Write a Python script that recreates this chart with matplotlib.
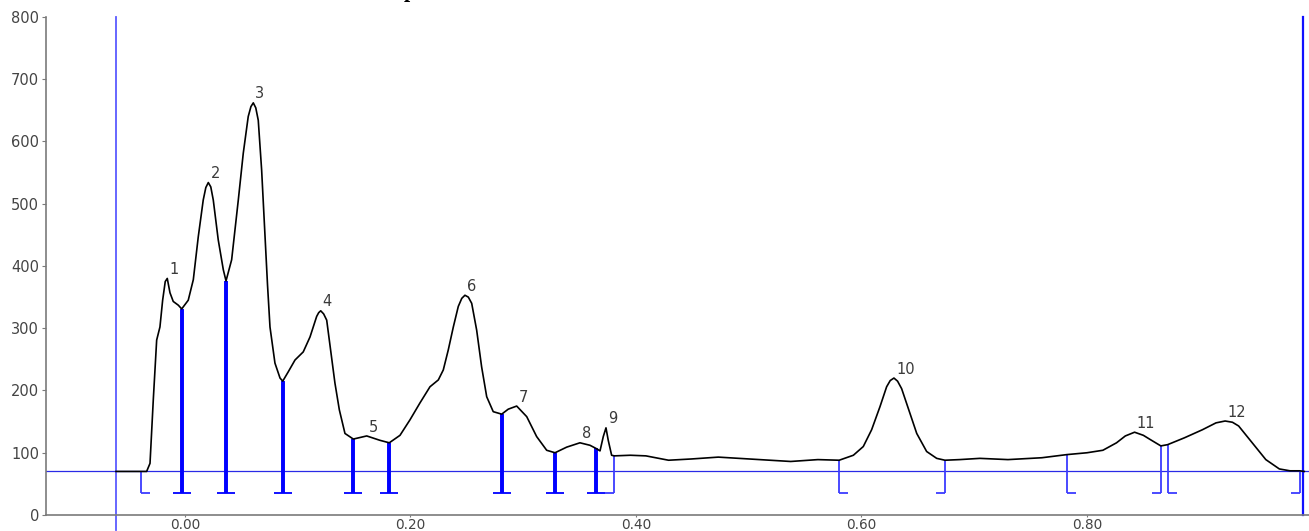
import numpy as np
import matplotlib
matplotlib.use("Agg")
import matplotlib.pyplot as plt

# traced densitometry profile (Rf, intensity)
rf = [-0.0612, -0.045, -0.034, -0.0310, -0.0281, -0.0251, -0.0222, -0.0198, -0.0175, -0.0157,
      -0.0133, -0.0104, -0.0059, -0.0029, 0.0029, 0.0074, 0.0118, 0.0162, 0.0185, 0.0207,
      0.0229, 0.0251, 0.0295, 0.0340, 0.0364, 0.0414, 0.0473, 0.0517, 0.0561, 0.0585,
      0.0606, 0.0628, 0.0650, 0.0680, 0.0714, 0.0732, 0.0754, 0.0798, 0.0843, 0.0867,
      0.0916, 0.0976, 0.1049, 0.1109, 0.1168, 0.1186, 0.1204, 0.1230, 0.1257, 0.1292,
      0.1330, 0.1369, 0.1419, 0.1493, 0.1612, 0.1729, 0.1812, 0.1907, 0.1996, 0.2084,
      0.2173, 0.2247, 0.2291, 0.2335, 0.2380, 0.2424, 0.2455, 0.2483, 0.2513, 0.2543,
      0.2587, 0.2631, 0.2676, 0.2734, 0.2809, 0.2867, 0.2942, 0.3031, 0.3119, 0.3208,
      0.3282, 0.3385, 0.3503, 0.3592, 0.3645, 0.3681, 0.3710, 0.3734, 0.3754, 0.3784,
      0.3808, 0.3950, 0.4088, 0.4289, 0.4490, 0.4730, 0.5011, 0.5200, 0.5372, 0.5613,
      0.5802, 0.5928, 0.6016, 0.6090, 0.6164, 0.6223, 0.6255, 0.6288, 0.6320, 0.6356,
      0.6430, 0.6490, 0.6578, 0.6667, 0.6740, 0.6870, 0.7050, 0.7299, 0.7600, 0.7820,
      0.8000, 0.8141, 0.8262, 0.8340, 0.8422, 0.8500, 0.8563, 0.8655, 0.8715, 0.8864,
      0.9024, 0.9144, 0.9225, 0.9290, 0.9345, 0.9465, 0.9586, 0.9706, 0.9800, 0.9887,
      0.9927]
intensity = [70, 70, 70, 83, 185, 281, 302, 345, 375, 380,
             357, 343, 337, 331, 345, 378, 447, 506, 526, 534,
             527, 506, 442, 394, 376, 410, 506, 581, 640, 656,
             662, 654, 634, 554, 434, 370, 302, 244, 220, 215,
             230, 249, 262, 286, 319, 325, 328, 323, 313, 265,
             212, 169, 131, 122, 127, 120, 116, 128, 153, 180,
             206, 217, 233, 265, 302, 335, 348, 353, 350, 340,
             297, 238, 190, 166, 162, 170, 175, 158, 126, 104,
             100, 109, 116, 112, 107, 103, 126, 140, 120, 96,
             95, 96, 95, 88, 90, 93, 90, 88, 86, 89,
             88, 96, 110, 137, 174, 206, 216, 220, 215, 203,
             163, 131, 102, 91, 88, 89, 91, 89, 92, 97,
             100, 104, 116, 127, 133, 128, 121, 111, 113, 124,
             137, 148, 151, 149, 143, 116, 89, 74, 71, 71,
             70]

# integration windows for each numbered peak
peak_start = [-0.039, -0.0029, 0.0364, 0.0867, 0.1493, 0.1812, 0.2809, 0.3282, 0.3645, 0.5802, 0.782, 0.8715]
peak_end = [-0.0029, 0.0364, 0.0867, 0.1493, 0.1812, 0.2809, 0.3282, 0.3645, 0.3808, 0.674, 0.8655, 0.9887]
peak_names = [str(i) for i in range(1, 13)]

baseline = 70
mark_floor = 35
front_lines = [-0.0612, 0.9916]

rf = np.array(rf)
intensity = np.array(intensity)

plt.rcParams["font.family"] = ["DejaVu Sans"]
fig = plt.figure(figsize=(13.09, 5.31), dpi=100)
ax = fig.add_axes([0.0351, 0.0301, 0.9649, 0.938])

blue = "#0000ff"
tick_w = 0.0079

ax.axhline(baseline, color="#2a2ae6", lw=0.9, zorder=2)

ax.plot([front_lines[0]] * 2, [-24, 800], color="#5a5aff", lw=1.3, clip_on=False, zorder=2)
ax.plot([front_lines[1]] * 2, [0, 800], color="#1010ff", lw=1.6, clip_on=False, zorder=2)

starts = set(peak_start)
ends = set(peak_end)
for s, e in zip(peak_start, peak_end):
    for xb, side in ((s, 1), (e, -1)):
        shared = xb in starts and xb in ends
        top = np.interp(xb, rf, intensity)
        lw = 2.6 if shared else 1.3
        col = blue if shared else "#3c3cff"
        ax.plot([xb, xb], [mark_floor, top], color=col, lw=lw, zorder=3,
                solid_capstyle="butt")
        ax.plot([xb, xb + side * tick_w], [mark_floor, mark_floor], color=col,
                lw=1.3, zorder=3, solid_capstyle="butt")

ax.plot(rf, intensity, color="black", lw=1.2, zorder=4, solid_joinstyle="round")

for name, s, e in zip(peak_names, peak_start, peak_end):
    m = (rf >= s) & (rf <= e)
    i = np.argmax(intensity[m])
    px, py = rf[m][i], intensity[m][i]
    ax.annotate(name, (px, py), xytext=(1.5, 1), textcoords="offset points",
                ha="left", va="bottom", fontsize=10.5, color="#3a3a3a")

ax.set_xlim(-0.1233, 0.9969)
ax.set_ylim(0, 800)
ax.set_xticks([0, 0.2, 0.4, 0.6, 0.8])
ax.set_xticklabels(["0.00", "0.20", "0.40", "0.60", "0.80"])
ax.set_yticks(range(0, 801, 100))
for sp in ("top", "right"):
    ax.spines[sp].set_visible(False)
for sp in ("left", "bottom"):
    ax.spines[sp].set_color("#7a7a7a")
    ax.spines[sp].set_linewidth(1.2)
ax.tick_params(axis="y", length=3, color="#7a7a7a", labelsize=10.5, labelcolor="#444444", pad=2)
ax.tick_params(axis="x", length=1.5, color="#7a7a7a", labelsize=9.8, labelcolor="#444444", pad=0.3)

fig.text(410 / 1309, 1 + 2.5 / 531, "p", ha="center", va="baseline", fontsize=16,
         fontweight="bold", family="Liberation Serif")

fig.savefig("out.png", dpi=100)
